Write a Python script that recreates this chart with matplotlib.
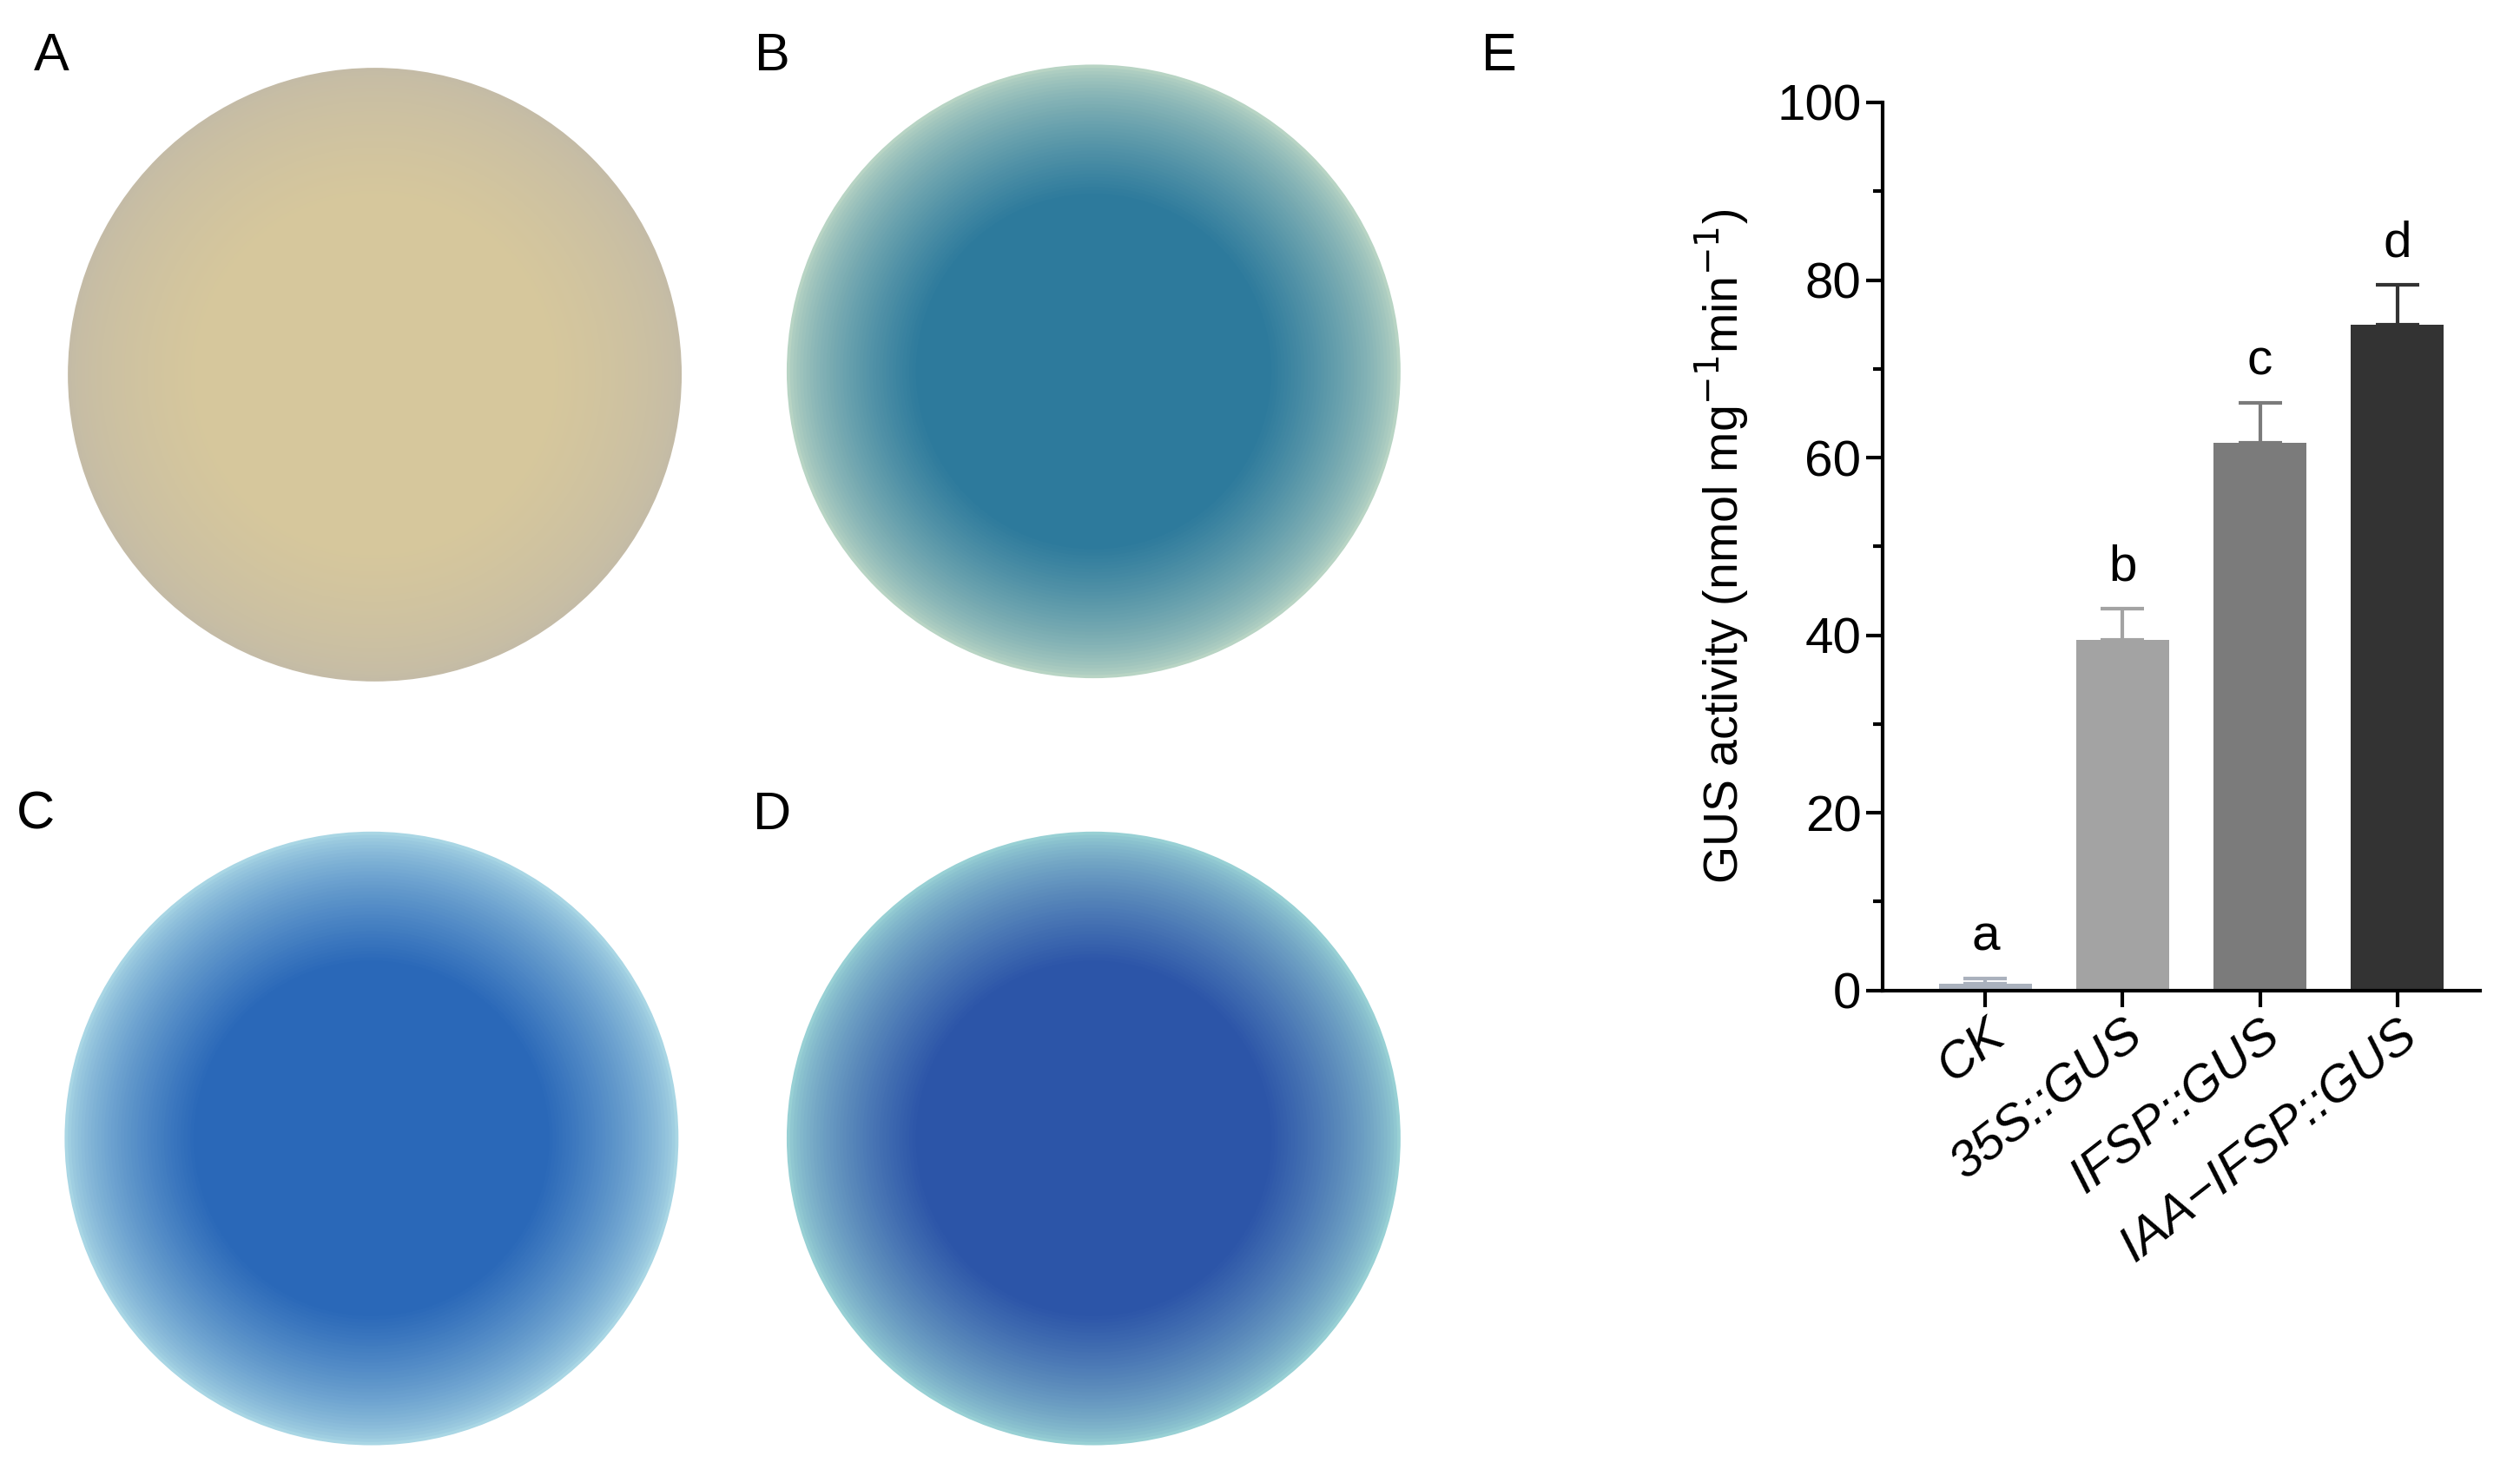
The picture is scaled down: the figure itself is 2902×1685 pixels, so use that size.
import matplotlib
matplotlib.use("Agg")
import matplotlib.pyplot as plt
import numpy as np
from matplotlib.patches import Circle

categories = ["CK", "35S::GUS", "IFSP::GUS", "IAA\u2212IFSP::GUS"]
values = [0.8, 39.5, 61.7, 75.0]
errors = [0.5, 3.5, 4.5, 4.5]
letters = ["a", "b", "c", "d"]
bar_colors = ["#aab1bd", "#a3a3a3", "#7b7b7b", "#333333"]
panel_labels = ["A", "B", "C", "D", "E"]

plt.rcParams['font.family'] = ['Liberation Sans', 'DejaVu Sans']
fig = plt.figure(figsize=(29.02, 16.85), dpi=100)

ov = fig.add_axes([0, 0, 1, 1])
ov.set_xlim(0, 1560); ov.set_ylim(906, 0); ov.axis("off")
discs = [((232, 232), "#d6c79c", "#c4bba6"), ((677, 230), "#2d7a9c", "#b8d4c4"),
         ((230, 705), "#2a68b8", "#a9d6e4"), ((677, 705), "#2c55a8", "#98d0d4")]
for (c, inner, edge) in discs:
    n = 40
    for i, r in enumerate(np.linspace(190, 110, n)):
        t = (i / (n - 1)) ** 0.7
        col = np.array(matplotlib.colors.to_rgb(edge)) * (1 - t) + np.array(matplotlib.colors.to_rgb(inner)) * t
        ov.add_patch(Circle(c, r, color=col, lw=0))
for lab, (x, y) in zip(panel_labels, [(32, 35), (478, 35), (22, 505), (478, 505), (928, 35)]):
    ov.text(x, y, lab, fontsize=44, ha="center", va="center")

ax = fig.add_axes([0.747, 0.323, 0.237, 0.607])
x = np.arange(len(categories))
ax.bar(x, values, width=0.68, color=bar_colors, zorder=2)
for xi, v, e, l, c in zip(x, values, errors, letters, bar_colors):
    ax.errorbar([xi], [v], yerr=[[0], [e]], ecolor=c, capsize=18, elinewidth=3, capthick=3, fmt="none", zorder=1)
    ax.text(xi, v + e + 2, l, ha="center", va="bottom", fontsize=42)
ax.set_ylim(0, 100); ax.set_xlim(-0.75, 3.6)
ax.set_yticks(range(0, 101, 20))
ax.set_yticks(range(0, 101, 10), minor=True)
ax.set_xticks(x)
ax.set_xticklabels(categories, rotation=38, ha="right", rotation_mode="anchor", style="italic", fontsize=42)
ax.tick_params(axis="y", labelsize=42, width=3, length=14)
ax.tick_params(axis="y", which="minor", width=3, length=8)
ax.tick_params(axis="x", width=3, length=14)
ax.spines[["top", "right"]].set_visible(False)
for s in ["left", "bottom"]:
    ax.spines[s].set_linewidth(3)
ax.set_ylabel("GUS activity (nmol mg$^{-1}$min$^{-1}$)", fontsize=40, labelpad=22)
fig.savefig("out.png", dpi=100)
